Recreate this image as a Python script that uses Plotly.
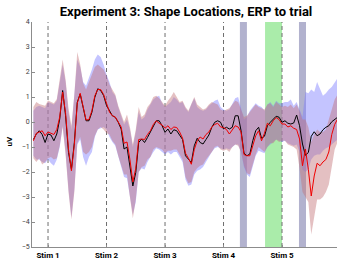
import numpy as np
import plotly.graph_objects as go

# time in stimulus units (Stim 1 = 0, Stim 2 = 1, ...)
time = [round(-0.25 + 0.05 * i, 2) for i in range(105)]

black = [-0.70, -0.48, -0.35, -0.50, -0.82, -0.48, -0.52, -0.75, -0.48, 0.12,
         1.26, 0.25, -1.22, -1.89, -0.82, 0.79, 1.12, 0.52, 0.05, 0.05,
         0.39, 0.99, 1.33, 1.26, 1.06, 0.66,
         0.46, 0.25, 0.19, -0.01, -0.28, -1.08, -1.00, -1.75, -2.56, -2.02,
         -0.82, -0.68, -0.82, -0.62, -0.41, -0.15, 0.05, 0.05, -0.15, -0.41,
         -0.28, -0.48, -0.31, -0.35, -0.52, -0.70,
         -1.35, -1.49, -1.62, -0.95, -0.65, -0.82, -0.88, -0.70, -0.52, -0.21,
         -0.01, 0.05, -0.01, -0.28, -0.21, -0.28, -0.21, 0.25, 0.25, -0.35,
         -1.25, -1.35, -1.28, -0.75, -0.35, -0.21,
         -0.65, -0.57, -0.15, -0.01, 0.12, 0.23, 0.19, -0.01, 0.05, -0.05,
         -0.08, -0.04, 0.28, -0.15, -0.88, -1.33, -1.22, -0.57, -0.39, -0.55,
         -0.48, -0.31, -0.21, -0.15, 0.01, 0.12, 0.19]

red = [-0.75, -0.45, -0.40, -0.35, -0.55, -0.40, -0.45, -0.50, -0.30, 0.20,
       1.20, 0.35, -1.10, -1.95, -0.90, 0.75, 1.15, 0.55, 0.08, 0.10,
       0.45, 1.05, 1.30, 1.30, 1.10, 0.75,
       0.40, 0.25, 0.20, 0.00, -0.20, -0.85, -0.80, -1.50, -2.40, -1.85,
       -0.70, -0.68, -0.70, -0.50, -0.35, -0.10, 0.05, -0.05, -0.12, -0.25,
       -0.15, -0.30, -0.20, -0.22, -0.40, -0.65,
       -1.25, -1.45, -1.69, -1.10, -0.75, -0.60, -0.68, -0.50, -0.40, -0.20,
       -0.10, -0.05, -0.20, -0.22, -0.30, -0.48, -0.30, -0.15, -0.20, -0.40,
       -1.30, -1.35, -1.35, -0.95, -0.55, -0.35,
       -0.75, -0.45, -0.05, -0.15, 0.05, 0.18, 0.10, -0.08, -0.08, -0.20,
       -0.15, -0.25, -0.30, -0.68, -1.75, -1.08, -1.89, -2.96, -2.16, -1.65,
       -1.75, -1.60, -1.50, -1.20, -0.50, -0.10, 0.12]

blue_hi = [0.45, 0.60, 0.65, 0.60, 0.55, 0.80, 0.75, 0.70, 0.85, 1.60,
           2.30, 1.60, 0.40, -0.30, 1.00, 2.50, 2.20, 1.60, 1.45, 1.75,
           2.10, 2.50, 2.70, 2.60, 2.30, 1.90,
           1.60, 1.20, 1.05, 0.60, 0.20, -0.10, 0.10, -0.30, -1.00, -0.40,
           0.40, 0.10, 0.20, 0.50, 0.70, 0.90, 1.00, 1.05, 0.75, 0.60,
           0.70, 0.80, 1.00, 0.90, 0.75, 0.80,
           0.55, 0.40, 0.70, 0.95, 0.60, 0.50, 0.45, 0.50, 0.65, 0.75,
           0.85, 0.90, 0.60, 0.50, 0.45, 0.50, 0.70, 0.95, 1.00, 0.55,
           0.10, 0.20, 0.45, 0.60, 0.75, 0.65,
           0.60, 0.45, 0.70, 0.80, 0.65, 0.85, 0.75, 0.75, 0.80, 0.80,
           0.90, 0.65, 0.80, 0.50, 0.20, 1.20, 1.15, 1.30, 1.20, 1.60,
           1.30, 1.05, 1.15, 1.30, 1.40, 1.60, 1.75]

blue_lo = [-1.35, -1.50, -1.50, -1.60, -1.65, -1.50, -1.65, -1.75, -1.50, -1.00,
           -0.15, -1.20, -2.70, -3.80, -2.70, -0.90, -0.70, -1.40, -1.75, -1.40,
           -1.20, -0.60, -0.30, -0.25, -0.20, -0.30,
           -0.60, -0.80, -0.95, -1.30, -1.80, -2.20, -2.25, -3.00, -3.70, -3.20,
           -2.00, -1.85, -1.90, -1.60, -1.40, -1.20, -1.05, -1.10, -1.20, -1.30,
           -1.20, -1.30, -1.20, -1.20, -1.40, -1.60,
           -2.30, -2.55, -2.50, -2.10, -1.95, -1.90, -1.80, -1.60, -1.40, -1.20,
           -1.05, -1.00, -1.05, -1.10, -1.05, -1.10, -1.00, -0.90, -0.90, -1.20,
           -1.80, -2.10, -2.20, -1.80, -1.35, -1.15,
           -1.20, -1.25, -1.00, -0.90, -0.80, -0.70, -0.75, -0.80, -0.75, -0.85,
           -0.90, -0.95, -0.90, -1.20, -1.90, -2.00, -1.90, -1.50, -1.35, -1.30,
           -1.30, -1.15, -1.05, -1.00, -0.90, -0.80, -0.70]

red_hi = [0.60, 0.80, 0.72, 0.70, 0.65, 0.86, 0.80, 0.75, 0.92, 1.73,
          2.50, 1.70, 0.55, -0.15, 1.10, 2.80, 2.30, 1.55, 1.30, 1.60,
          1.90, 2.20, 2.30, 2.20, 2.10, 1.85,
          1.50, 1.30, 1.10, 0.65, 0.30, 0.00, 0.30, -0.20, -0.90, -0.30,
          0.60, 0.20, 0.30, 0.60, 0.75, 1.00, 1.05, 0.95, 0.80, 0.65,
          0.85, 1.00, 1.20, 1.00, 0.80, 0.85,
          0.60, 0.45, 0.75, 1.00, 0.70, 0.60, 0.50, 0.55, 0.70, 0.80,
          0.75, 0.70, 0.50, 0.45, 0.50, 0.55, 0.70, 0.85, 0.80, 0.50,
          0.20, 0.25, 0.40, 0.55, 0.70, 0.60,
          0.55, 0.50, 0.70, 0.75, 0.60, 0.80, 0.70, 0.60, 0.65, 0.60,
          0.70, 0.55, 0.70, 0.45, 0.10, 0.10, -0.20, -0.80, -0.50, -0.30,
          -0.40, -0.40, -0.30, 0.10, 0.50, 0.90, 1.10]

red_lo = [-1.45, -1.60, -1.45, -1.70, -1.60, -1.45, -1.40, -1.50, -1.45, -0.95,
          -0.20, -1.30, -2.80, -3.90, -2.80, -0.85, -0.60, -1.20, -1.30, -1.20,
          -1.00, -0.55, -0.30, -0.20, -0.30, -0.45,
          -0.50, -0.75, -0.90, -1.35, -1.75, -2.10, -2.10, -3.00, -3.85, -3.10,
          -2.00, -1.80, -1.75, -1.50, -1.40, -1.10, -1.00, -1.05, -1.10, -1.25,
          -1.15, -1.15, -1.10, -1.10, -1.30, -1.50,
          -2.20, -2.45, -2.40, -2.00, -1.85, -1.75, -1.70, -1.50, -1.35, -1.20,
          -1.00, -0.95, -1.10, -1.15, -1.10, -1.20, -1.00, -0.90, -0.95, -1.20,
          -1.75, -2.05, -2.10, -1.70, -1.30, -1.00,
          -1.10, -1.20, -1.00, -0.85, -0.85, -0.70, -0.80, -0.75, -0.75, -0.90,
          -0.95, -1.00, -1.10, -1.85, -2.80, -3.00, -3.20, -4.50, -3.80, -3.10,
          -3.10, -3.00, -2.80, -2.50, -1.80, -1.10, -0.80]

stim_times = [0, 1, 2, 3, 4]
stim_labels = ["Stim 1", "Stim 2", "Stim 3", "Stim 4", "Stim 5"]
gray_windows = [(3.28, 3.40), (4.29, 4.41)]
green_windows = [(3.71, 4.00)]
y_ticks = [-5, -4, -3, -2, -1, 0, 1, 2, 3, 4]

fig = go.Figure()

for a, b in gray_windows:
    fig.add_vrect(x0=a, x1=b, fillcolor="rgb(178,178,206)", line_width=0,
                  layer="below", opacity=1)
for a, b in green_windows:
    fig.add_vrect(x0=a, x1=b, fillcolor="rgb(170,236,170)", line_width=0,
                  layer="below", opacity=1)
for s in stim_times:
    fig.add_vline(x=s, line=dict(color="rgb(110,110,110)", width=1, dash="4px,3px"),
                  layer="below")

fig.add_trace(go.Scatter(x=time + time[::-1], y=blue_hi + blue_lo[::-1],
                         fill="toself", fillcolor="rgba(125,125,255,0.45)",
                         line=dict(width=0), mode="lines", hoverinfo="skip",
                         showlegend=False))
fig.add_trace(go.Scatter(x=time + time[::-1], y=red_hi + red_lo[::-1],
                         fill="toself", fillcolor="rgba(195,115,120,0.45)",
                         line=dict(width=0), mode="lines", hoverinfo="skip",
                         showlegend=False))
fig.add_trace(go.Scatter(x=time, y=black, mode="lines",
                         line=dict(color="black", width=1), showlegend=False))
fig.add_trace(go.Scatter(x=time, y=red, mode="lines",
                         line=dict(color="rgb(240,0,0)", width=1), showlegend=False))

fig.add_annotation(text="<b>uV</b>", xref="paper", yref="paper", x=-0.075, y=0.47,
                   textangle=-90, showarrow=False, xanchor="center", yanchor="middle",
                   font=dict(family="Roboto", size=8, color="black"))

fig.update_layout(
    width=337, height=264,
    margin=dict(l=32, r=0, t=22, b=17),
    paper_bgcolor="white", plot_bgcolor="white",
    title=dict(text="<b>Experiment 3: Shape Locations, ERP to trial</b>",
               x=0.552, xanchor="center", y=0.955, yanchor="middle",
               font=dict(family="Roboto", size=13, color="black")),
    font=dict(family="Roboto"),
)
fig.update_xaxes(range=[-0.274, 4.94], tickvals=stim_times,
                 ticktext=["<b>%s</b>" % s for s in stim_labels],
                 automargin=False,
                 showgrid=False, zeroline=False, showline=True,
                 linecolor="rgb(140,140,140)", linewidth=1,
                 ticks="inside", ticklen=2, tickcolor="rgb(140,140,140)",
                 tickfont=dict(family="Roboto", size=8, color="black"))
fig.update_yaxes(range=[-5, 4], tickvals=y_ticks, showgrid=False, zeroline=False,
                 automargin=False,
                 showline=True, linecolor="rgb(140,140,140)", linewidth=1,
                 ticks="inside", ticklen=3, tickcolor="rgb(140,140,140)",
                 tickfont=dict(family="Roboto", size=7, color="rgb(60,60,60)"))

fig.write_html("out.html", config={"displayModeBar": False},
               post_script="document.body.style.margin='0px';document.body.style.padding='0px';")
